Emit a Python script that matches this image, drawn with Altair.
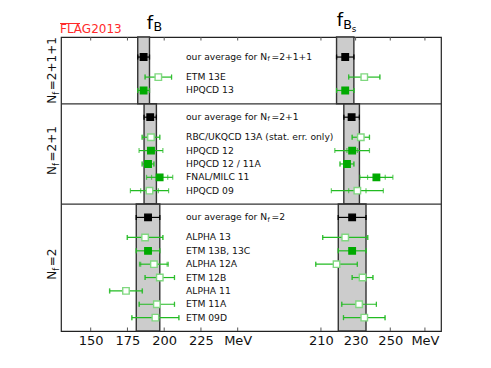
import altair as alt
import pandas as pd

FONT = "DejaVu Sans"

# ---------------- data ----------------
groups = ["2+1+1", "2+1", "2"]
avg_fB = [186.0, 190.5, 189.0]
avg_fB_err = [4.0, 4.2, 8.0]
avg_fBs = [224.0, 227.7, 228.0]
avg_fBs_err = [5.0, 4.5, 8.0]

collab = ["ETM 13E", "HPQCD 13",
          "RBC/UKQCD 13A (stat. err. only)", "HPQCD 12", "HPQCD 12 / 11A", "FNAL/MILC 11", "HPQCD 09",
          "ALPHA 13", "ETM 13B, 13C", "ALPHA 12A", "ETM 12B", "ALPHA 11", "ETM 11A", "ETM 09D"]
nf = ["2+1+1", "2+1+1",
      "2+1", "2+1", "2+1", "2+1", "2+1",
      "2", "2", "2", "2", "2", "2", "2"]
filled = [False, True,
          False, True, True, True, False,
          False, True, False, False, False, False, False]

fB = [196, 186, 191, 191, 189, 196.9, 190, 187, 189, 193, 197, 174, 195, 194]
fB_stat = [9, 4, 6, 1, 4, 5.5, 6, 12, 8, 9, 10, 11, 12, 16]
fB_tot = [9, 4, 6, 8.1, 4, 8.9, 13, 12.2, 8, 9.8, 10, 11.2, 12, 16]

fBs = [235, 224, 233, 228, 225, 242.0, 231, 224, 228, 219, 234, None, 232, 235]
fBs_stat = [9, 5, 5, 3, 4, 5.1, 5, 13, 8, 12, 6, None, 10, 12]
fBs_tot = [9, 5, 5, 10, 4, 9.5, 15, 13, 8, 12, 6, None, 10, 12]

fB_ticks = [150, 175, 200, 225, 250]
fBs_ticks = [210, 230, 250, 270]

# ---------------- layout of rows (point scale domain) ----------------
order = []


def pad(n):
    for _ in range(n):
        order.append(f"_pad{len(order)}")


order.append("top")
group_bounds = []
for gi, g in enumerate(groups):
    start = len(order) - 1
    pad(2 if gi == 0 else 1)
    order.append(f"avg {g}")
    pad(2)
    members = [c for c, n in zip(collab, nf) if n == g]
    for j, c in enumerate(members):
        if j:
            pad(1)
        order.append(c)
    pad(1)
    order.append(f"sep {g}")
    group_bounds.append((start, len(order) - 1))

W = 380
H = 294
LF = 9.2  # label font size


def points(vals, stat, tot, avg, avg_err):
    rows = []
    for g, a, e in zip(groups, avg, avg_err):
        rows.append(dict(key=f"avg {g}", v=a, stat=e, tot=e, kind="avg"))
    for c, f, v, s, t in zip(collab, filled, vals, stat, tot):
        if v is None:
            continue
        rows.append(dict(key=c, v=v, stat=s, tot=t, kind="filled" if f else "open"))
    return pd.DataFrame(rows)


def bands(avg, err):
    rows = []
    prev = "top"
    for g, a, e in zip(groups, avg, err):
        rows.append(dict(k1=prev, k2=f"sep {g}", v=a, e=e))
        prev = f"sep {g}"
    return pd.DataFrame(rows)


YSCALE = alt.Scale(type="point", domain=order, padding=0)
Y = alt.Y("key:N", scale=YSCALE, axis=None)
kind_dom = ["avg", "filled", "open"]
FILL = alt.Fill("kind:N", scale=alt.Scale(domain=kind_dom, range=["#000000", "#00aa00", "#ffffff"]), legend=None)
STROKE = alt.Stroke("kind:N", scale=alt.Scale(domain=kind_dom, range=["#000000", "#00aa00", "#80d880"]), legend=None)
BARCOL = alt.condition("datum.kind == 'avg'", alt.value("#000000"), alt.value("#22bb22"))


def panel(df, bdf, domain, ticks, mev):
    scale = alt.Scale(domain=domain, nice=False, zero=False)
    axis = alt.Axis(orient="bottom", values=ticks,
                    labelExpr=f"datum.value == {mev} ? 'MeV' : datum.label",
                    ticks=False, domain=False, grid=False, title=None,
                    labelFontSize=13, labelFont=FONT, labelColor="#111",
                    labelPadding=3, labelFlush=False, labelOverlap=False)

    def X(f):
        return alt.X(f, type="quantitative", scale=scale, axis=axis)

    band = alt.Chart(bdf).transform_calculate(
        lo="datum.v - datum.e", hi="datum.v + datum.e"
    ).mark_rect(fill="#cccccc", stroke="#333333", strokeWidth=1.4).encode(
        x=X("lo"), x2="hi",
        y=alt.Y("k1:N", scale=YSCALE, axis=None),
        y2="k2:N")

    tdf = pd.DataFrame(dict(t=ticks))
    top_ticks = alt.Chart(tdf).mark_rule(color="#555555", strokeWidth=1).encode(
        x=X("t"), y=alt.value(0), y2=alt.value(3.5))
    bot_ticks = alt.Chart(tdf).mark_rule(color="#555555", strokeWidth=1).encode(
        x=X("t"), y=alt.value(H - 3.5), y2=alt.value(H))

    base = alt.Chart(df).transform_calculate(
        lo_t="datum.v - datum.tot", hi_t="datum.v + datum.tot",
        lo_s="datum.v - datum.stat", hi_s="datum.v + datum.stat")
    bars = base.mark_rule(strokeWidth=1.2).encode(x=X("lo_t"), x2="hi_t", y=Y, color=BARCOL)
    caps = base.transform_fold(["lo_t", "hi_t", "lo_s", "hi_s"], as_=["end", "xe"]).mark_tick(
        size=5, thickness=1.2).encode(x=X("xe"), y=Y, color=BARCOL)
    sq = base.mark_square(size=42, filled=True, strokeWidth=1.4, opacity=1).encode(
        x=X("v"), y=Y, fill=FILL, stroke=STROKE)
    return alt.layer(top_ticks, bot_ticks, band, bars, caps, sq)


left = panel(points(fB, fB_stat, fB_tot, avg_fB, avg_fB_err), bands(avg_fB, avg_fB_err),
             [129.8, 129.8 + W / 1.47], fB_ticks, 250)
right = panel(points(fBs, fBs_stat, fBs_tot, avg_fBs, avg_fBs_err), bands(avg_fBs, avg_fBs_err),
              [60.0, 60.0 + W / 1.733], fBs_ticks, 270)

# separators between the N_f groups
sep_df = pd.DataFrame(dict(key=[f"sep {g}" for g in groups[:-1]]))
seps = alt.Chart(sep_df).mark_rule(color="#333333", strokeWidth=1.3).encode(y=Y)

# row labels
lab_df = pd.DataFrame(dict(key=collab, label=collab))
labels = alt.Chart(lab_df).mark_text(align="left", baseline="middle", fontSize=LF, font=FONT,
                                     color="#111").encode(x=alt.value(125), y=Y, text="label:N")

GW = {'N': 1532, 'f': 721, '=': 1716, '2': 1303, '+': 1716, '1': 1303}
head = "our average for N"
head_w = LF * 18078 / 2048
sub_f = LF * 0.7
avg_df = pd.DataFrame(dict(key=[f"avg {g}" for g in groups], rest=["=" + g for g in groups]))
avg1 = alt.Chart(avg_df).mark_text(align="left", baseline="middle", fontSize=LF, font=FONT,
                                   color="#111").encode(x=alt.value(125), y=Y, text=alt.value(head))
avg2 = alt.Chart(avg_df).mark_text(align="left", baseline="middle", fontSize=sub_f, font=FONT,
                                   color="#111", dx=head_w + 0.2, dy=2.2).encode(
    x=alt.value(125), y=Y, text=alt.value("f"))
avg3 = alt.Chart(avg_df).mark_text(align="left", baseline="middle", fontSize=LF, font=FONT,
                                   color="#111", dx=head_w + sub_f * GW['f'] / 2048 + 2).encode(
    x=alt.value(125), y=Y, text="rest:N")

# rotated group labels
F = 12
FS = 8.4
grp_layers = []
for g, (a, b) in zip(groups, group_bounds):
    key = order[int((a + b) / 2)]
    rest = "=" + g
    wN = F * GW['N'] / 2048
    wf = FS * GW['f'] / 2048
    wr = F * sum(GW[c] for c in rest) / 2048
    gap = 1.5
    total = wN + wf + gap + wr
    d0 = -total / 2
    gdf = pd.DataFrame(dict(key=[key], rest=[rest]))
    common = dict(align="left", baseline="alphabetic", angle=270, font=FONT, color="#111")
    grp_layers.append(alt.Chart(gdf).mark_text(fontSize=F, dx=d0, **common).encode(
        x=alt.value(-5), y=Y, text=alt.value("N")))
    grp_layers.append(alt.Chart(gdf).mark_text(fontSize=FS, dx=d0 + wN, dy=2.5, **common).encode(
        x=alt.value(-5), y=Y, text=alt.value("f")))
    grp_layers.append(alt.Chart(gdf).mark_text(fontSize=F, dx=d0 + wN + wf + gap, **common).encode(
        x=alt.value(-5), y=Y, text="rest:N"))

# titles
one = pd.DataFrame(dict(a=[0]))


def txt(s, x, y, size, color="#000"):
    return alt.Chart(one).mark_text(align="left", baseline="alphabetic", fontSize=size, font=FONT,
                                    color=color).encode(x=alt.value(x), y=alt.value(y), text=alt.value(s))


titles = [
    txt("f", 85.7, -8, 18), txt("B", 92.6, -6.3, 12.6),
    txt("f", 275.7, -11, 18), txt("B", 282.3, -7.7, 12.6), txt("s", 290.8, -5.3, 8.8),
    txt("FLAG2013", -1, -4, 12, "#ff2a2a"),
]
overline = alt.Chart(one).mark_rule(color="#ff2a2a", strokeWidth=1).encode(
    x=alt.value(-1), x2=alt.value(19), y=alt.value(-13.5))

chart = alt.layer(left, right, seps, labels, avg1, avg2, avg3, *grp_layers, *titles, overline).resolve_scale(
    x="independent"
).properties(
    width=W, height=H,
    autosize=alt.AutoSizeParams(type="none"),
    padding={"left": 53, "top": 29, "right": 40, "bottom": 25},
).configure_view(stroke="#222222", strokeWidth=1.2)

chart.save("out.html", embed_options={"renderer": "svg", "actions": False})
